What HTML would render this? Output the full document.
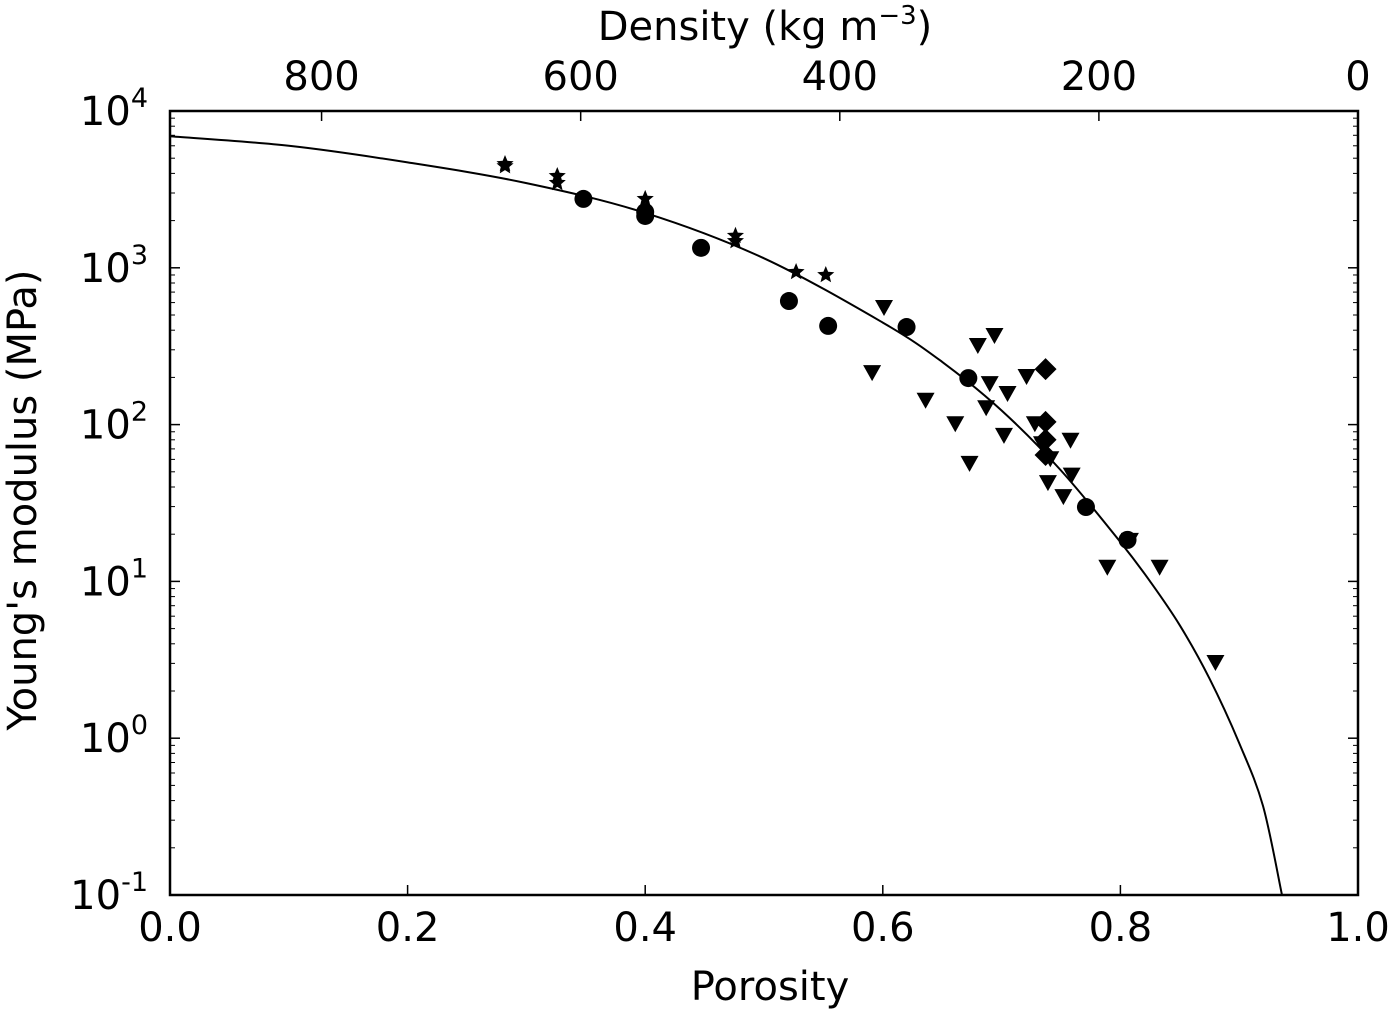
<!DOCTYPE html>
<html><head><meta charset="utf-8">
<style>
html,body{margin:0;padding:0;background:#fff;}
svg text{font-family:"DejaVu Sans","Liberation Sans",sans-serif;fill:#000;}
</style></head>
<body>
<svg id="chart" width="1400" height="1011" viewBox="0 0 1400 1011" xmlns="http://www.w3.org/2000/svg">
  <rect x="0" y="0" width="1400" height="1011" fill="#fff"/>
  <g id="ticks"></g>
  <g id="curve"></g>
  <g id="points"></g>
  <rect x="170" y="111" width="1188" height="784" fill="none" stroke="#000" stroke-width="2.5"/>
  <text x="770" y="1000" font-size="40" text-anchor="middle">Porosity</text>
  <text x="765" y="40" font-size="40" text-anchor="middle">Density (kg m<tspan font-size="26" dy="-16">−3</tspan><tspan dy="16">)</tspan></text>
  <text transform="translate(36,500) rotate(-90)" font-size="40" text-anchor="middle">Young's modulus (MPa)</text>
</svg>
<script>
const xTickLabels = ["0.0","0.2","0.4","0.6","0.8","1.0"];
const xTicks = [0,0.2,0.4,0.6,0.8,1.0];
const densityTicks = [800,600,400,200,0];
const yDecades = [-1,0,1,2,3,4];
const iceDensity = 917;

const curvePorosity = [0,0.1,0.2,0.3,0.4,0.5,0.6,0.65,0.7,0.75,0.8,0.825,0.85,0.875,0.9,0.92,0.936];
const curveE = [6900,6000,4700,3470,2240,1150,447,251,123,51,17.8,10,5.25,2.4,0.93,0.37,0.1];

const circleP = [0.348,0.400,0.400,0.447,0.521,0.554,0.620,0.672,0.771,0.806];
const circleE = [2750,2270,2140,1340,614,426,419,198,29.8,18.4];

const triP = [0.601,0.591,0.636,0.661,0.673,0.680,0.694,0.690,0.687,0.705,0.702,0.721,0.728,0.734,0.741,0.739,0.752,0.759,0.758,0.789,0.808,0.833,0.880];
const triE = [562,216,144,102,57,322,373,184,129,159,86,204,102,76,61,43,35,48,80,12.4,18.4,12.4,3.06];

const diaP = [0.737,0.737,0.737,0.737];
const diaE = [226,104,80,64];

const starP = [0.282,0.282,0.326,0.326,0.400,0.476,0.476,0.527,0.552];
const starE = [4590,4450,3850,3480,2750,1600,1480,940,900];

const L=170,R=1358,T=111,B=895;
const xs = p => L + p*(R-L);
const ys = e => B - (Math.log10(e)+1)/5*(B-T);
const NS="http://www.w3.org/2000/svg";
function mk(tag, attrs, parent){const el=document.createElementNS(NS,tag);for(const k in attrs)el.setAttribute(k,attrs[k]);parent.appendChild(el);return el;}

const tg=document.getElementById('ticks');
xTicks.forEach((p,i)=>{
  const x=xs(p);
  const t1=mk('line',{x1:x,x2:x,y1:B,y2:B-10,stroke:'#000','stroke-width':1.5},tg);
  
  
  const lb=mk('text',{x:x,y:B+46,'font-size':40,'text-anchor':'middle'},tg);
  lb.textContent=xTickLabels[i];
  
  
});
densityTicks.forEach(d=>{
  const x=xs(1-d/iceDensity);
  const t=mk('line',{x1:x,x2:x,y1:T,y2:T+10,stroke:'#000','stroke-width':1.5},tg);
  
  
  const lb=mk('text',{x:x,y:90,'font-size':40,'text-anchor':'middle'},tg);
  lb.textContent=String(d);
  
  
});
yDecades.forEach(k=>{
  const y=ys(Math.pow(10,k));
  [[L,L+10],[R,R-10]].forEach(([a,b])=>{
    const t=mk('line',{x1:a,x2:b,y1:y,y2:y,stroke:'#000','stroke-width':1.5},tg);
    
    
  });
  if(k<4){for(let m=2;m<=9;m++){const ym=ys(m*Math.pow(10,k));
    [[L,L+5],[R,R-5]].forEach(([a,b])=>{
      const t=mk('line',{x1:a,x2:b,y1:ym,y2:ym,stroke:'#000','stroke-width':1},tg);
      
      
    });}}
  const lb=mk('text',{x:148,y:y+14,'font-size':40,'text-anchor':'end'},tg);
  lb.textContent='10';
  const sup=mk('tspan',{'font-size':27,dy:-18},lb);
  sup.textContent=String(k);
  
  
});

const cg=document.getElementById('curve');
const P=curvePorosity.map((p,i)=>[xs(p),ys(curveE[i])]);
let d='M'+P[0][0].toFixed(1)+','+P[0][1].toFixed(1);
for(let i=0;i<P.length-1;i++){
  const p0=P[Math.max(i-1,0)],p1=P[i],p2=P[i+1],p3=P[Math.min(i+2,P.length-1)];
  const c1=[p1[0]+(p2[0]-p0[0])/6,p1[1]+(p2[1]-p0[1])/6];
  const c2=[p2[0]-(p3[0]-p1[0])/6,p2[1]-(p3[1]-p1[1])/6];
  d+=` C${c1[0].toFixed(1)},${c1[1].toFixed(1)} ${c2[0].toFixed(1)},${c2[1].toFixed(1)} ${p2[0].toFixed(1)},${p2[1].toFixed(1)}`;
}
const path=mk('path',{d:d,fill:'none',stroke:'#000','stroke-width':2},cg);



const pg=document.getElementById('points');
circleP.forEach((p,i)=>{
  const c=mk('circle',{cx:xs(p),cy:ys(circleE[i]),r:9,fill:'#000'},pg);
  
  
});
triP.forEach((p,i)=>{
  const x=xs(p),y=ys(triE[i]);
  const t=mk('polygon',{points:`${x-9},${y-7} ${x+9},${y-7} ${x},${y+9}`,fill:'#000'},pg);
  
  
});
diaP.forEach((p,i)=>{
  const x=xs(p),y=ys(diaE[i]);
  const t=mk('polygon',{points:`${x},${y-11} ${x+11},${y} ${x},${y+11} ${x-11},${y}`,fill:'#000'},pg);
  
  
});
starP.forEach((p,i)=>{
  const x=xs(p),y=ys(starE[i]);let pts=[];
  for(let j=0;j<10;j++){const a=-Math.PI/2+j*Math.PI/5;const r=j%2?4:9;pts.push((x+r*Math.cos(a)).toFixed(1)+','+(y+r*Math.sin(a)).toFixed(1));}
  const s=mk('polygon',{points:pts.join(' '),fill:'#000'},pg);
  
  
});
</script>
</body></html>
